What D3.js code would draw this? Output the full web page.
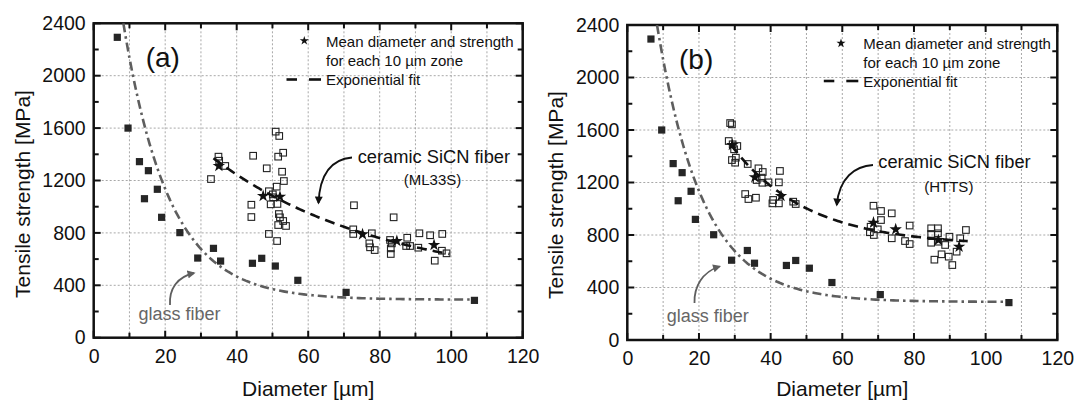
<!DOCTYPE html>
<html>
<head>
<meta charset="utf-8">
<script src="https://cdn.jsdelivr.net/npm/d3@7"></script>
<style>
  body { margin: 0; background: #fff; }
  svg { display: block; }
  text { font-family: "Liberation Sans", Arial, Helvetica, sans-serif; }
</style>
</head>
<body>
<svg id="chart" width="1074" height="400"></svg>
<script>
// ---- Glass fiber: single-filament tests (same set in both panels) ----
const glassDiameter = [6.6, 9.6, 12.8, 15.3, 17.8, 14.2, 19.0, 24.1, 29.1, 33.5, 35.5, 44.4, 47.0, 50.8, 57.1, 70.6, 106.5];
const glassStrength = [2293, 1600, 1344, 1275, 1133, 1061, 919, 802, 608, 682, 585, 568, 606, 547, 438, 346, 285];

// ---- SiCN fiber ML33S ----
const ml33sDiameter = [34.9, 35.1, 36.8, 32.8, 44.6, 48.4, 50.9, 51.9, 51.6, 53.0, 52.7, 53.2, 51.2, 49.0, 50.2, 50.1,
  51.4, 49.5, 44.1, 44.1, 51.8, 52.1, 53.0, 51.6, 53.8, 49.0, 51.3,
  72.8, 83.9, 72.6, 72.6, 77.8, 77.1, 77.3, 78.6, 82.9, 83.1, 83.1, 83.4, 87.7, 87.4, 88.5, 90.8, 91.1, 94.1, 95.4, 97.5, 97.4, 98.7];
const ml33sStrength = [1382, 1351, 1311, 1211, 1389, 1293, 1573, 1540, 1382, 1412, 1267, 1196, 1153, 1118, 1072, 1094,
  1021, 1018, 1015, 921, 944, 919, 891, 860, 853, 792, 738,
  1011, 919, 827, 792, 797, 720, 690, 669, 746, 682, 639, 720, 763, 700, 700, 687, 797, 782, 588, 792, 664, 644];
const ml33sMeanDiameter = [35.0, 47.4, 52.1, 75.2, 84.8, 95.2];
const ml33sMeanStrength = [1311, 1082, 1076, 789, 738, 708];

// ---- SiCN fiber HTTS ----
const httsDiameter = [28.7, 29.2, 28.3, 29.4, 30.7, 29.8, 30.3, 29.2, 30.1, 33.6, 36.6, 37.8, 37.5, 36.1, 37.7, 39.4,
  42.6, 42.3, 32.9, 33.8, 35.9, 40.7, 40.5, 42.3, 46.3, 47.0,
  68.7, 70.8, 70.8, 73.8, 67.9, 69.9, 67.7, 68.8, 78.8, 73.8, 77.5, 78.8, 84.8, 86.7, 84.8, 86.7, 84.8, 86.8,
  89.9, 88.7, 92.9, 94.5, 91.9, 87.7, 89.7, 85.7, 90.7];
const httsStrength = [1653, 1643, 1516, 1491, 1478, 1453, 1389, 1371, 1351, 1341, 1308, 1280, 1237, 1219, 1198, 1201,
  1288, 1201, 1112, 1074, 1084, 1067, 1041, 1041, 1054, 1036,
  1023, 983, 914, 965, 863, 843, 821, 800, 872, 775, 754, 731, 851, 851, 808, 813, 741, 749,
  787, 724, 775, 838, 673, 653, 635, 612, 571];
const httsMeanDiameter = [29.3, 35.6, 42.9, 68.7, 74.9, 86.8, 92.6];
const httsMeanStrength = [1486, 1240, 1097, 894, 843, 762, 711];

// ---- Exponential fits: strength = y0 + A * exp(-d / t) ----
const glassFit = [290, 4034, 12.8];   // [y0, A, t]
const glassFitRange = [8.3, 106];
const ml33sFit = [400, 1979, 47];
const ml33sFitRange = [33.5, 99.5];
const httsFit = [720, 3023, 21.1];
const httsFitRange = [29, 95];

// ---- Axes ----
const xDomain = [0, 120];
const yDomain = [0, 2400];
const xTicks = [0, 20, 40, 60, 80, 100, 120];
const xMinorTicks = [10, 30, 50, 70, 90, 110];
const yTicks = [0, 400, 800, 1200, 1600, 2000, 2400];
const yMinorTicks = [200, 600, 1000, 1400, 1800, 2200];
const xGrid = [10, 20, 30, 40, 50, 60, 70, 80, 90, 100, 110];
const yGrid = [400, 800, 1200, 1600, 2000];

const panels = [
  {
    tag: "(a)", fiber: "(ML33S)",
    box: { left: 93.7, right: 522.7, top: 23.3, bottom: 337.7 },
    dia: ml33sDiameter, str: ml33sStrength,
    meanDia: ml33sMeanDiameter, meanStr: ml33sMeanStrength,
    fit: ml33sFit, fitRange: ml33sFitRange,
    tagPos: [145.7, 66.5],
    yTitleX: 30, yTitleY: 194,
    legend: { starX: 304.3, starY: 40.7, textX: 326, base: 46.5, dashY: 79.5 },
    glassText: [138.5, 320], glassArrow: "M170,305 C169,289 177,277 194,273",
    sicnText: [357.7, 163.3], sicnSub: [432.5, 185],
    sicnArrow: "M352,157.5 C334,159 320,170 318.5,203"
  },
  {
    tag: "(b)", fiber: "(HTTS)",
    box: { left: 627.3, right: 1057.3, top: 25, bottom: 340 },
    dia: httsDiameter, str: httsStrength,
    meanDia: httsMeanDiameter, meanStr: httsMeanStrength,
    fit: httsFit, fitRange: httsFitRange,
    tagPos: [679, 68.5],
    yTitleX: 563, yTitleY: 195,
    legend: { starX: 841, starY: 43.3, textX: 863.3, base: 49, dashY: 81 },
    glassText: [666.7, 321.7], glassArrow: "M694.5,303 C694,287 702,272 719.5,266.5",
    sicnText: [878.3, 168.3], sicnSub: [948.8, 191.7],
    sicnArrow: "M873,165 C855,166 839,178 836.8,205"
  }
];

const svg = d3.select("#chart");
const defs = svg.append("defs");
function arrowMarker(id, color) {
  defs.append("marker")
    .attr("id", id).attr("viewBox", "0 0 10 10")
    .attr("refX", 8).attr("refY", 5)
    .attr("markerWidth", 9).attr("markerHeight", 8)
    .attr("markerUnits", "userSpaceOnUse")
    .attr("orient", "auto")
    .append("path").attr("d", "M0,0 L10,5 L0,10 Z").attr("fill", color);
}
arrowMarker("arrowGray", "#5e5e5e");
arrowMarker("arrowBlack", "#111");

const starBig = d3.symbol().type(d3.symbolStar).size(48)();
const starSmall = d3.symbol().type(d3.symbolStar).size(26)();

function fitCurve(params, range) {
  const [y0, A, t] = params;
  const n = 120;
  return d3.range(n + 1).map(i => {
    const d = range[0] + (range[1] - range[0]) * i / n;
    return [d, y0 + A * Math.exp(-d / t)];
  });
}

panels.forEach(p => {
  const b = p.box;
  const x = d3.scaleLinear().domain(xDomain).range([b.left, b.right]);
  const y = d3.scaleLinear().domain(yDomain).range([b.bottom, b.top]);
  const g = svg.append("g");

  // grid
  g.append("g").selectAll("line").data(xGrid).join("line")
    .attr("x1", d => x(d)).attr("x2", d => x(d))
    .attr("y1", b.top).attr("y2", b.bottom)
    .attr("stroke", "#a8a8a8").attr("stroke-width", 1).attr("stroke-dasharray", "2,2");
  g.append("g").selectAll("line").data(yGrid).join("line")
    .attr("y1", d => y(d)).attr("y2", d => y(d))
    .attr("x1", b.left).attr("x2", b.right)
    .attr("stroke", "#a8a8a8").attr("stroke-width", 1).attr("stroke-dasharray", "2,2");

  // inward ticks on all four sides
  const bottomAxis = d3.axisBottom(x).tickValues(xTicks).tickSize(0).tickPadding(11).tickFormat(d3.format("d"));
  const ax = g.append("g").attr("transform", `translate(0,${b.bottom})`).call(bottomAxis);
  ax.select(".domain").remove();
  ax.selectAll("text").attr("font-size", 19.5).attr("fill", "#111")
    .style("font-family", '"Liberation Sans", Arial, sans-serif');

  const leftAxis = d3.axisLeft(y).tickValues(yTicks).tickSize(0).tickPadding(8).tickFormat(d3.format("d"));
  const ay = g.append("g").attr("transform", `translate(${b.left},0)`).call(leftAxis);
  ay.select(".domain").remove();
  ay.selectAll("text").attr("font-size", 19.5).attr("fill", "#111")
    .style("font-family", '"Liberation Sans", Arial, sans-serif');

  const tickG = g.append("g").attr("stroke", "#111").attr("stroke-width", 2);
  [[xTicks, 7], [xMinorTicks, 5]].forEach(([vals, len]) => {
    vals.forEach(v => {
      tickG.append("line").attr("x1", x(v)).attr("x2", x(v)).attr("y1", b.bottom).attr("y2", b.bottom - len);
      tickG.append("line").attr("x1", x(v)).attr("x2", x(v)).attr("y1", b.top).attr("y2", b.top + len);
    });
  });
  [[yTicks, 7], [yMinorTicks, 5]].forEach(([vals, len]) => {
    vals.forEach(v => {
      tickG.append("line").attr("y1", y(v)).attr("y2", y(v)).attr("x1", b.left).attr("x2", b.left + len);
      tickG.append("line").attr("y1", y(v)).attr("y2", y(v)).attr("x1", b.right).attr("x2", b.right - len);
    });
  });

  // frame
  g.append("rect").attr("x", b.left).attr("y", b.top)
    .attr("width", b.right - b.left).attr("height", b.bottom - b.top)
    .attr("fill", "none").attr("stroke", "#111").attr("stroke-width", 2.5);

  const line = d3.line().x(d => x(d[0])).y(d => y(d[1]));

  // glass fiber fit (dash-dot)
  g.append("path").attr("d", line(fitCurve(glassFit, glassFitRange)))
    .attr("fill", "none").attr("stroke", "#5e5e5e").attr("stroke-width", 2.6)
    .attr("stroke-dasharray", "9,4,2.5,4");

  // glass fiber points
  g.append("g").selectAll("rect").data(d3.zip(glassDiameter, glassStrength)).join("rect")
    .attr("x", d => x(d[0]) - 3.6).attr("y", d => y(d[1]) - 3.6)
    .attr("width", 7.2).attr("height", 7.2).attr("fill", "#262626");

  // SiCN points (open squares)
  g.append("g").selectAll("rect").data(d3.zip(p.dia, p.str)).join("rect")
    .attr("x", d => x(d[0]) - 3.3).attr("y", d => y(d[1]) - 3.3)
    .attr("width", 6.6).attr("height", 6.6)
    .attr("fill", "none").attr("stroke", "#222").attr("stroke-width", 1.1);

  // SiCN exponential fit (dashed)
  g.append("path").attr("d", line(fitCurve(p.fit, p.fitRange)))
    .attr("fill", "none").attr("stroke", "#111").attr("stroke-width", 2.6)
    .attr("stroke-dasharray", "10,6");

  // zone means
  g.append("g").selectAll("path").data(d3.zip(p.meanDia, p.meanStr)).join("path")
    .attr("d", starBig)
    .attr("transform", d => `translate(${x(d[0])},${y(d[1])})`)
    .attr("fill", "#111");

  // panel tag
  g.append("text").attr("x", p.tagPos[0]).attr("y", p.tagPos[1])
    .attr("font-size", 28).attr("fill", "#111").text(p.tag);

  // legend
  const L = p.legend;
  g.append("path").attr("d", starSmall).attr("transform", `translate(${L.starX},${L.starY})`).attr("fill", "#111");
  [["Mean diameter and strength", 0], ["for each 10 µm zone", 19], ["Exponential fit", 38]].forEach(([t, dy]) => {
    g.append("text").attr("x", L.textX).attr("y", L.base + dy)
      .attr("font-size", 15).attr("fill", "#111").text(t);
  });
  g.append("line").attr("x1", L.textX - 39.5).attr("x2", L.textX - 29)
    .attr("y1", L.dashY).attr("y2", L.dashY).attr("stroke", "#111").attr("stroke-width", 2.6);
  g.append("line").attr("x1", L.textX - 17).attr("x2", L.textX - 5)
    .attr("y1", L.dashY).attr("y2", L.dashY).attr("stroke", "#111").attr("stroke-width", 2.6);

  // annotations
  g.append("text").attr("x", p.glassText[0]).attr("y", p.glassText[1])
    .attr("font-size", 18).attr("fill", "#666").text("glass fiber");
  g.append("path").attr("d", p.glassArrow).attr("fill", "none")
    .attr("stroke", "#5e5e5e").attr("stroke-width", 1.8).attr("marker-end", "url(#arrowGray)");

  g.append("text").attr("x", p.sicnText[0]).attr("y", p.sicnText[1])
    .attr("font-size", 18.3).attr("fill", "#111").text("ceramic SiCN fiber");
  g.append("text").attr("x", p.sicnSub[0]).attr("y", p.sicnSub[1]).attr("text-anchor", "middle")
    .attr("font-size", 15).attr("fill", "#111").text(p.fiber);
  g.append("path").attr("d", p.sicnArrow).attr("fill", "none")
    .attr("stroke", "#111").attr("stroke-width", 1.8).attr("marker-end", "url(#arrowBlack)");

  // axis titles
  g.append("text").attr("x", (b.left + b.right) / 2).attr("y", 395.5).attr("text-anchor", "middle")
    .attr("font-size", 21).attr("fill", "#111").text("Diameter [µm]");
  g.append("text").attr("transform", `translate(${p.yTitleX},${p.yTitleY}) rotate(-90)`)
    .attr("text-anchor", "middle").attr("font-size", 21).attr("fill", "#111")
    .text("Tensile strength [MPa]");
});
</script>
</body>
</html>
